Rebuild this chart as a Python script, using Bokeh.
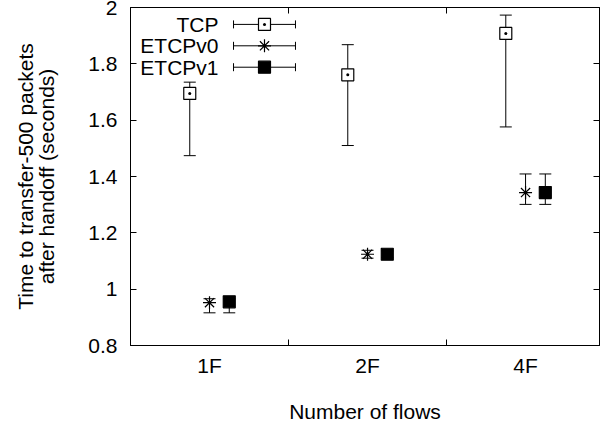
import numpy as np
from bokeh.plotting import figure
from bokeh.models import (Range1d, LinearAxis, FixedTicker, CustomJSTickFormatter,
                          Whisker, TeeHead, ColumnDataSource)
from bokeh.core.properties import value
from bokeh.embed import file_html
from bokeh.resources import INLINE

# ---- data ----
categories = ["1F", "2F", "4F"]
series_names = ["TCP", "ETCPv0", "ETCPv1"]

tcp_mean = [1.695, 1.761, 1.908]
tcp_low = [1.474, 1.510, 1.576]
tcp_high = [1.735, 1.868, 1.973]

v0_mean = [0.952, 1.124, 1.343]
v0_low = [0.916, 1.110, 1.301]
v0_high = [0.966, 1.138, 1.409]

v1_mean = [0.955, 1.124, 1.343]
v1_low = [0.916, 1.112, 1.301]
v1_high = [0.966, 1.136, 1.409]

y_ticks = [0.8, 1.0, 1.2, 1.4, 1.6, 1.8, 2.0]

FONT = "Liberation Sans"
FS = "21px"

p = figure(width=608, height=442, x_range=Range1d(0, 2.968), y_range=Range1d(0.8, 2.0),
           output_backend="svg", toolbar_location=None,
           min_border_left=130, min_border_right=9, min_border_top=7, min_border_bottom=97)
p.grid.visible = False
p.outline_line_color = "black"
p.background_fill_color = "white"
p.border_fill_color = "white"

# x axis: category labels at group centres, tick marks between groups
xa = p.xaxis[0]
xa.ticker = FixedTicker(ticks=[0.5, 1.5, 2.5], minor_ticks=[1, 2])
xa.formatter = CustomJSTickFormatter(args=dict(labels=categories),
                                     code="return labels[Math.round(tick - 0.5)];")
xa.major_tick_in = 0
xa.major_tick_out = 0
xa.minor_tick_in = 6
xa.minor_tick_out = 0
xa.major_label_standoff = 8
xa.major_label_text_font = FONT
xa.major_label_text_font_size = FS
xa.major_label_text_color = "black"
xa.axis_label = "Number of flows"
xa.axis_label_text_font = FONT
xa.axis_label_text_font_size = FS
xa.axis_label_text_font_style = "normal"
xa.axis_label_text_color = "black"
xa.axis_label_standoff = 20
xa.axis_line_color = "black"

ya = p.yaxis[0]
ya.ticker = FixedTicker(ticks=y_ticks)
ya.formatter = CustomJSTickFormatter(code="return String(Math.round(tick * 10) / 10);")
ya.major_tick_in = 6
ya.major_tick_out = 0
ya.minor_tick_line_color = None
ya.major_label_standoff = 13
ya.major_label_text_font = FONT
ya.major_label_text_font_size = FS
ya.major_label_text_color = "black"
ya.axis_line_color = "black"
ya.axis_label = "Time to transfer-500 packets\nafter handoff (seconds)"
ya.axis_label_text_font = FONT
ya.axis_label_text_font_size = FS
ya.axis_label_text_font_style = "normal"
ya.axis_label_text_color = "black"
ya.axis_label_text_line_height = 0.92
ya.axis_label_standoff = 27

# mirrored ticks on the right and top (drawn as unlabeled minor ticks)
ra = LinearAxis(ticker=FixedTicker(ticks=[], minor_ticks=y_ticks), major_tick_in=0,
                major_tick_out=0, minor_tick_in=6, minor_tick_out=0,
                major_label_standoff=0, axis_line_color="black")
p.add_layout(ra, "right")
ta = LinearAxis(ticker=FixedTicker(ticks=[], minor_ticks=[1, 2]), major_tick_in=0,
                major_tick_out=0, minor_tick_in=6, minor_tick_out=0,
                major_label_standoff=0, axis_line_color="black")
p.add_layout(ta, "above")

# ---- series ----
base = np.arange(len(categories)) + 0.5
offsets = [-0.125, 0.0, 0.125]
means = [tcp_mean, v0_mean, v1_mean]
lows = [tcp_low, v0_low, v1_low]
highs = [tcp_high, v0_high, v1_high]
markers = ["square_dot", "asterisk", "square"]
fills = ["white", None, "black"]
sizes = [12, 13, 12]

# legend layout (data units)
leg_rows = [1.940, 1.864, 1.788]
leg_text_x = 0.557
leg_x0, leg_x1, leg_xm = 0.652, 1.044, 0.848

for i in range(3):
    src = ColumnDataSource(dict(x=base + offsets[i], y=means[i], lo=lows[i], hi=highs[i]))
    w = Whisker(base="x", lower="lo", upper="hi", source=src, dimension="height",
                line_color="black", line_width=1, level="underlay",
                upper_head=TeeHead(size=12, line_color="black", line_width=1),
                lower_head=TeeHead(size=12, line_color="black", line_width=1))
    p.add_layout(w)
    p.scatter("x", "y", source=src, marker=markers[i], size=sizes[i],
              line_color="black", line_width=1.2, fill_color=fills[i])

    # legend entry
    lsrc = ColumnDataSource(dict(y=[leg_rows[i]], x0=[leg_x0], x1=[leg_x1], xm=[leg_xm],
                                 tx=[leg_text_x], t=[series_names[i]]))
    lw = Whisker(base="y", lower="x0", upper="x1", source=lsrc, dimension="width",
                 line_color="black", line_width=1, level="underlay",
                 upper_head=TeeHead(size=8, line_color="black", line_width=1),
                 lower_head=TeeHead(size=8, line_color="black", line_width=1))
    p.add_layout(lw)
    p.scatter("xm", "y", source=lsrc, marker=markers[i], size=sizes[i],
              line_color="black", line_width=1.2, fill_color=fills[i])
    p.text("tx", "y", text="t", source=lsrc, text_align="right", text_baseline="middle",
           text_font=value(FONT), text_font_size=FS, text_color="black")

open("out.html", "w").write(file_html(p, INLINE))
